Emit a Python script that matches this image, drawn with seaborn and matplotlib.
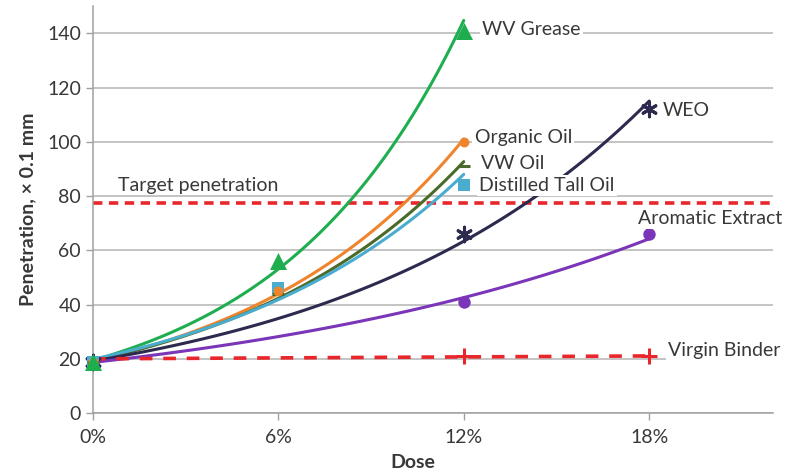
import numpy as np
import pandas as pd
import matplotlib.pyplot as plt
import seaborn as sns

# data (dose in %, penetration in 0.1 mm)
products = ["WV Grease", "Organic Oil", "VW Oil", "Distilled Tall Oil",
            "WEO", "Aromatic Extract", "Virgin Binder"]
doses = {
    "WV Grease": [0, 6, 12],
    "Organic Oil": [0, 6, 12],
    "VW Oil": [0, 6, 12],
    "Distilled Tall Oil": [0, 6, 12],
    "WEO": [0, 12, 18],
    "Aromatic Extract": [0, 12, 18],
    "Virgin Binder": [0, 12, 18],
}
pens = {
    "WV Grease": [19, 56, 141],
    "Organic Oil": [19, 45, 100],
    "VW Oil": [19, 44, 91],
    "Distilled Tall Oil": [19, 46, 84],
    "WEO": [19, 66, 112],
    "Aromatic Extract": [19, 41, 66],
    "Virgin Binder": [20, 21, 21],
}
target_pen = 77.5

colors = {
    "WV Grease": "#1fae4f",
    "Organic Oil": "#f0842c",
    "VW Oil": "#4a6b2a",
    "Distilled Tall Oil": "#4aadcf",
    "WEO": "#2c2a4e",
    "Aromatic Extract": "#7a35b8",
    "Virgin Binder": "#e8262b",
}
markers = {
    "WV Grease": "^",
    "Organic Oil": "o",
    "VW Oil": "_",
    "Distilled Tall Oil": "s",
    "WEO": (6, 2, 0),
    "Aromatic Extract": "o",
    "Virgin Binder": "+",
}
msize = {
    "WV Grease": 150, "Organic Oil": 50, "VW Oil": 80, "Distilled Tall Oil": 80,
    "WEO": 110, "Aromatic Extract": 80, "Virgin Binder": 120,
}
# label positions (x in %, y)
label_pos = {
    "WV Grease": (12.6, 141.4),
    "Organic Oil": (12.35, 101.6),
    "VW Oil": (12.55, 92),
    "Distilled Tall Oil": (12.5, 84),
    "WEO": (18.45, 111.6),
    "Aromatic Extract": (17.65, 71.8),
    "Virgin Binder": (18.6, 23.2),
}

pts = pd.DataFrame([(p, d, v) for p in products for d, v in zip(doses[p], pens[p])],
                   columns=["product", "dose", "pen"])

# trendlines: exponential fits, linear for the virgin binder
fits = []
for p in products:
    x = np.array(doses[p], float)
    y = np.array(pens[p], float)
    xs = np.linspace(0, x.max(), 100)
    if p == "Virgin Binder":
        k = np.polyfit(x, y, 1)
        ys = np.polyval(k, xs)
    else:
        k = np.polyfit(x, np.log(y), 1)
        ys = np.exp(np.polyval(k, xs))
    fits.append(pd.DataFrame({"product": p, "dose": xs, "pen": ys}))
fits = pd.concat(fits)

sns.set_theme(style="white")
plt.rcParams["font.family"] = ["Lato", "DejaVu Sans"]
txt = "#383838"

fig, ax = plt.subplots(figsize=(7.87, 4.74), dpi=100)
fig.subplots_adjust(left=0.118, right=0.982, bottom=0.128, top=0.987)

ax.set_xlim(0, 22)
ax.set_ylim(0, 150)
ax.set_yticks(np.arange(0, 141, 20))
ax.set_xticks([0, 6, 12, 18])
ax.set_xticklabels(["0%", "6%", "12%", "18%"])
ax.yaxis.grid(True, color="#b4b4b4", lw=1.1)
ax.set_axisbelow(True)

for s in ["top", "right"]:
    ax.spines[s].set_visible(False)
for s in ["left", "bottom"]:
    ax.spines[s].set_color("#a0a0a0")
    ax.spines[s].set_linewidth(1.1)
ax.tick_params(axis="both", colors="#a0a0a0", length=5, width=1,
               labelcolor=txt, labelsize=14, direction="out",
               bottom=True, left=True)
ax.tick_params(axis="x", pad=6)

# target line
ax.axhline(target_pen, color=colors["Virgin Binder"], lw=2.6, ls=(0, (2.6, 1.8)), zorder=2)
ax.text(0.8, 84, "Target penetration", fontsize=14, color=txt, va="center",
        zorder=6, bbox=dict(fc="white", ec="none", pad=0.5))

for p in products:
    d = fits[fits["product"] == p]
    ls = (0, (3.5, 3)) if p == "Virgin Binder" else "-"
    sns.lineplot(data=d, x="dose", y="pen", color=colors[p], lw=2.6 if p == "Virgin Binder" else 2.2,
                 ls=ls, ax=ax, zorder=3, legend=False)
    lx, ly = label_pos[p]
    ax.text(lx, ly, p, fontsize=14, color=txt, va="center", zorder=6,
            bbox=dict(fc="white", ec="none", pad=1.5))

# markers, drawn in reverse so the WV Grease triangle sits on top at 0 %
for i, p in enumerate(reversed(products)):
    q = pts[pts["product"] == p]
    if p == "Virgin Binder":
        q = q[q["dose"] > 0]
    m = markers[p]
    line_art = m in ("_", "+")
    sns.scatterplot(data=q, x="dose", y="pen", marker=m, s=msize[p], color=colors[p],
                    linewidth=2.2 if line_art or m == (6, 2, 0) else 0,
                    edgecolor=colors[p] if m == (6, 2, 0) else None,
                    ax=ax, zorder=4 + i * 0.01, legend=False, clip_on=False)

ax.set_xlabel("Dose", fontsize=14, fontweight="bold", color=txt)
ax.xaxis.set_label_coords(0.47, -0.1)
ax.set_ylabel("Penetration, × 0.1 mm", fontsize=14, fontweight="bold", color=txt, labelpad=8)

fig.savefig("out.png", dpi=100)
